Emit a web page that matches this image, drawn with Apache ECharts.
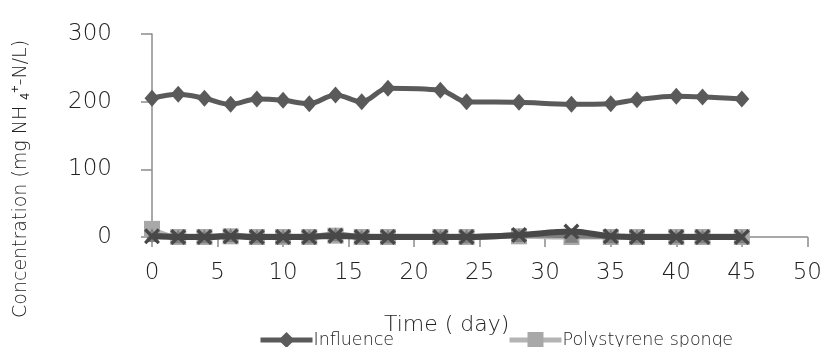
<!DOCTYPE html>
<html>
<head>
<meta charset="utf-8">
<script src="https://cdn.jsdelivr.net/npm/echarts@6/dist/echarts.min.js"></script>
<style>
  html, body { margin: 0; padding: 0; background: #fff; }
  #chart { width: 825px; height: 347px; }
</style>
</head>
<body>
<div id="chart"></div>
<script>
// sampling days
const days = [0, 2, 4, 6, 8, 10, 12, 14, 16, 18, 22, 24, 28, 32, 35, 37, 40, 42, 45]
// NH4+-N concentration, mg/L
const influence = [205, 211, 205, 196, 204, 202, 197, 210, 200, 220, 217, 200, 199, 196, 197, 203, 208, 207, 204]
const polystyrene = [12, 0, 0, 1, 0, 0, 0, 2, 0, 0, 0, 0, 1, 0, 0, 0, 0, 0, 0]
const series3 = [3, 1, 1, 3, 1, 1, 1, 4, 1, 1, 1, 1, 3, 2, 1, 1, 1, 1, 1]
const series4 = [1, 0, 0, 1, 0, 0, 0, 2, 0, 0, 0, 0, 3, 8, 1, 0, 0, 0, 0]
const xTicks = [0, 5, 10, 15, 20, 25, 30, 35, 40, 45, 50]
const yTicks = [0, 100, 200, 300]

const pairs = (vals) => days.map((d, i) => [d, vals[i]])
const font = 'DejaVu Sans, Verdana, sans-serif'
const fw = 200
const xShape = 'path://M0,1.5L1.5,0L5,3.5L8.5,0L10,1.5L6.5,5L10,8.5L8.5,10L5,6.5L1.5,10L0,8.5L3.5,5Z'

const legendBase = {
  top: 331,
  padding: 0,
  itemWidth: 52,
  itemHeight: 20,
  itemGap: 0,
  lineStyle: { width: 5 },
  textStyle: { color: '#222', fontSize: 17.5, fontFamily: font, fontWeight: fw, padding: [0, 0, 0, -4] }
}

const chart = echarts.init(document.getElementById('chart'))
const option = {
  animation: false,
  textStyle: { fontFamily: font },
  grid: {
    left: 152,
    right: 17,
    top: 34,
    bottom: 110
  },
  xAxis: {
    type: 'value',
    min: xTicks[0],
    max: xTicks[xTicks.length - 1],
    interval: 5,
    name: 'Time ( day)',
    nameLocation: 'middle',
    nameGap: 77,
    nameTextStyle: {
      color: '#222',
      fontSize: 22,
      fontFamily: font,
      fontWeight: fw,
      padding: [0, 66, 0, 0]
    },
    axisLine: { lineStyle: { color: '#8c8c8c', width: 1.5 } },
    axisTick: { length: 10, lineStyle: { color: '#8c8c8c', width: 1.5 } },
    axisLabel: { color: '#222', fontSize: 23, margin: 25, fontFamily: font, fontWeight: fw },
    splitLine: { show: false }
  },
  yAxis: {
    type: 'value',
    min: yTicks[0],
    max: yTicks[yTicks.length - 1],
    interval: 100,
    axisLine: { show: true, lineStyle: { color: '#8c8c8c', width: 1.5 } },
    axisTick: { show: true, length: 11, lineStyle: { color: '#8c8c8c', width: 1.5 } },
    axisLabel: { color: '#222', fontSize: 23, margin: 40, fontFamily: font, fontWeight: fw },
    splitLine: { show: false }
  },
  graphic: [{
    type: 'text',
    x: 9,
    y: 318,
    rotation: Math.PI / 2,
    style: {
      text: 'Concentration (mg NH {sub|4}{sup|+}-N/L)',
      fill: '#222',
      font: fw + ' 19px ' + font,
      rich: {
        sub: { fontSize: 12, fontWeight: fw, padding: [10, 0, 0, 0], fill: '#222' },
        sup: { fontSize: 13, fontWeight: fw, padding: [0, 0, 11, 0], fill: '#222' }
      }
    }
  }],
  legend: [
    Object.assign({ data: ['Influence'], left: 258 }, legendBase),
    Object.assign({ data: ['Polystyrene sponge'], left: 507 }, legendBase)
  ],
  series: [
    {
      name: 'Influence',
      type: 'line',
      smooth: 0.35,
      data: pairs(influence),
      symbol: 'diamond',
      symbolSize: [15, 17],
      lineStyle: { color: '#5a5a5a', width: 5 },
      itemStyle: { color: '#5a5a5a' },
      z: 2
    },
    {
      name: 'Polystyrene sponge',
      type: 'line',
      smooth: 0.35,
      data: pairs(polystyrene),
      symbol: 'rect',
      symbolSize: 16,
      lineStyle: { color: '#b4b4b4', width: 5 },
      itemStyle: { color: '#a8a8a8' },
      clip: false,
      z: 3
    },
    {
      name: 'Series 3',
      type: 'line',
      smooth: 0.35,
      data: pairs(series3),
      symbol: 'triangle',
      symbolSize: 14,
      lineStyle: { color: '#7f7f7f', width: 5 },
      itemStyle: { color: '#7f7f7f' },
      clip: false,
      z: 4
    },
    {
      name: 'Series 4',
      type: 'line',
      smooth: 0.35,
      data: pairs(series4),
      symbol: xShape,
      symbolSize: 16,
      lineStyle: { color: '#484848', width: 6 },
      itemStyle: { color: '#484848' },
      clip: false,
      z: 5
    }
  ]
}
chart.setOption(option)
</script>
</body>
</html>
